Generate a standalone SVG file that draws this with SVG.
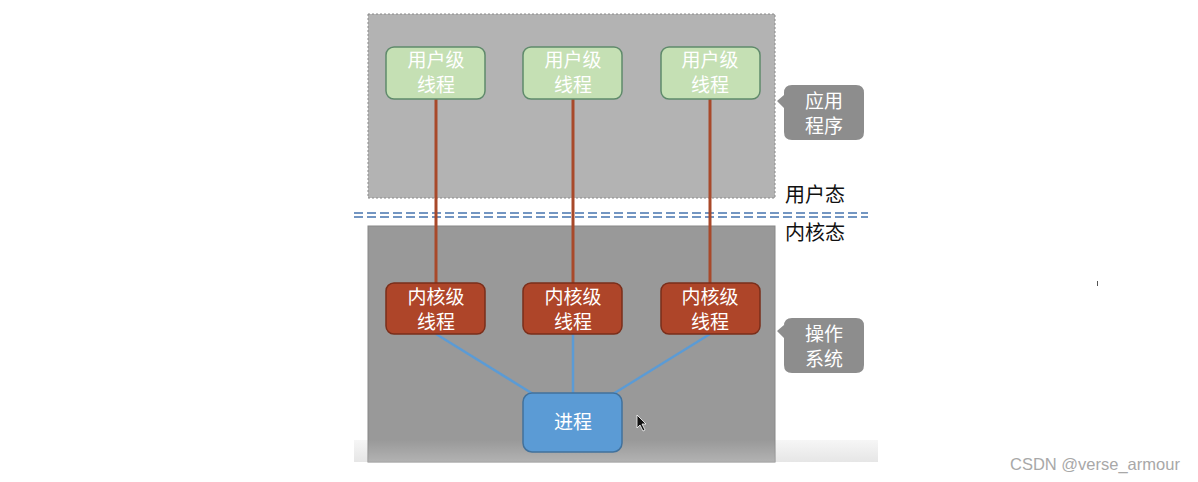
<svg xmlns="http://www.w3.org/2000/svg" width="1198" height="482" viewBox="0 0 1198 482">
<defs>
<style>
.t{font-family:"Noto Sans CJK SC","Noto Sans",sans-serif;font-size:19px;text-anchor:middle}
.w{fill:#ffffff}
.k{fill:#111111;text-anchor:start;font-size:20px}
.user{fill:#c5e0b4;stroke:#5f8a6b;stroke-width:1.5}
.kern{fill:#ae4529;stroke:#7a2e1a;stroke-width:1.5}
.proc{fill:#5b9bd5;stroke:#41719c;stroke-width:1.5}
.call{fill:#8d8d8d}
.red{stroke:#a8492a;stroke-width:3;fill:none}
.blue{stroke:#5b9bd5;stroke-width:2.5;fill:none}
</style>
<linearGradient id="fade" x1="0" y1="0" x2="0" y2="1">
<stop offset="0" stop-color="#ffffff" stop-opacity="0"/>
<stop offset="1" stop-color="#ffffff" stop-opacity="0.25"/>
</linearGradient>
<linearGradient id="band" x1="0" y1="0" x2="0" y2="1">
<stop offset="0" stop-color="#f6f6f6"/>
<stop offset="1" stop-color="#e6e6e6"/>
</linearGradient>
</defs>
<rect width="1198" height="482" fill="#ffffff"/>
<rect x="354" y="440" width="524" height="22" fill="url(#band)"/>
<g id="app-area">
<rect x="368" y="14" width="407" height="184" fill="#b3b3b3" stroke="#8a8a8a" stroke-width="1" stroke-dasharray="2 2"/>
</g>
<g id="kernel-area">
<rect x="368" y="226" width="407" height="236" fill="#999999" stroke="#888" stroke-width="1"/>
<rect x="368" y="440" width="407" height="22" fill="url(#fade)"/>
</g>
<g id="divider">
<line x1="354" y1="213" x2="868" y2="213" stroke="#7396c2" stroke-width="2" stroke-dasharray="9 4"/>
<line x1="354" y1="217" x2="868" y2="217" stroke="#7396c2" stroke-width="2" stroke-dasharray="9 4"/>
</g>
<g id="connectors">
<line class="red" x1="436" y1="99" x2="436" y2="283"/>
<line class="red" x1="573" y1="99" x2="573" y2="283"/>
<line class="red" x1="710" y1="99" x2="710" y2="283"/>
<line class="blue" x1="436" y1="334" x2="533" y2="394"/>
<line class="blue" x1="573" y1="334" x2="573" y2="394"/>
<line class="blue" x1="710" y1="334" x2="613" y2="394"/>
</g>
<g id="u1"><rect class="user" x="386" y="47" width="99" height="52" rx="8"/><text class="t w" x="436" y="67">用户级</text><text class="t w" x="436" y="92">线程</text></g>
<g id="u2"><rect class="user" x="523" y="47" width="99" height="52" rx="8"/><text class="t w" x="573" y="67">用户级</text><text class="t w" x="573" y="92">线程</text></g>
<g id="u3"><rect class="user" x="661" y="47" width="99" height="52" rx="8"/><text class="t w" x="710" y="67">用户级</text><text class="t w" x="710" y="92">线程</text></g>
<g id="k1"><rect class="kern" x="386" y="283" width="99" height="51" rx="8"/><text class="t w" x="436" y="304">内核级</text><text class="t w" x="436" y="329">线程</text></g>
<g id="k2"><rect class="kern" x="523" y="283" width="99" height="51" rx="8"/><text class="t w" x="573" y="304">内核级</text><text class="t w" x="573" y="329">线程</text></g>
<g id="k3"><rect class="kern" x="661" y="283" width="99" height="51" rx="8"/><text class="t w" x="710" y="304">内核级</text><text class="t w" x="710" y="329">线程</text></g>
<g id="process"><rect class="proc" x="523" y="393" width="99" height="59" rx="9"/><text class="t w" x="573" y="429">进程</text></g>
<g id="callout-app"><path class="call" d="M792,85 H856 Q864,85 864,93 V132 Q864,140 856,140 H792 Q784,140 784,132 V108 L777,101 L784,95 V93 Q784,85 792,85 Z"/><text class="t w" x="824" y="108">应用</text><text class="t w" x="824" y="133">程序</text></g>
<g id="callout-os"><path class="call" d="M792,318 H856 Q864,318 864,326 V365 Q864,373 856,373 H792 Q784,373 784,365 V338 L777,331 L784,325 V326 Q784,318 792,318 Z"/><text class="t w" x="824" y="341">操作</text><text class="t w" x="824" y="366">系统</text></g>
<g id="labels">
<text class="t k" x="785" y="202">用户态</text>
<text class="t k" x="785" y="240">内核态</text>
</g>
<path d="M637,415 L637,428 L640,425 L643,431 L645,430 L642,424 L646,424 Z" fill="#111" stroke="#fff" stroke-width="0.8"/>
<line x1="1097.5" y1="281" x2="1097.5" y2="286" stroke="#555" stroke-width="1"/>
<text x="1010" y="470" font-family="Liberation Sans,Arial,sans-serif" font-size="16.5" fill="#a8a8a8">CSDN @verse_armour</text>
</svg>
